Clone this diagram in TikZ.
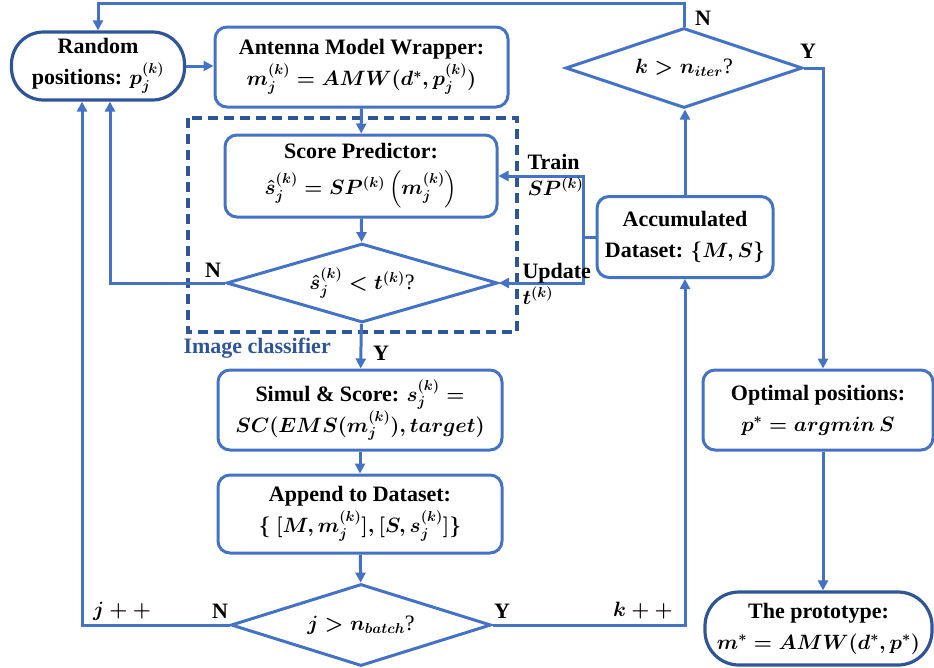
\documentclass[tikz,border=0pt]{standalone}
\usepackage{fontspec}
\setmainfont{Liberation Serif}
\usepackage{amsmath}
\usetikzlibrary{arrows.meta,shapes.geometric}
\definecolor{lineblue}{HTML}{4472C4}
\definecolor{darkblue}{HTML}{2F5597}

\begin{document}
\begin{tikzpicture}[x=1pt, y=-1pt, >={Triangle[length=10pt,width=10pt]},
  font=\fontsize{22}{31}\selectfont\bfseries\boldmath,
  bx/.style={draw=lineblue, line width=3pt, rounded corners=12pt, align=center, inner sep=2pt},
  term/.style={draw=darkblue, line width=3.2pt, rounded corners=32pt, align=center, inner sep=2pt},
  dec/.style={draw=lineblue, line width=3pt, diamond, aspect=3.3, inner sep=0pt},
  ln/.style={draw=lineblue, line width=3pt}]
\useasboundingbox (0,0) rectangle (934,667);
% left column
\node[term, minimum width=173pt, minimum height=68pt] (rnd) at (98,66) {Random\\positions: $p_j^{(k)}$};
\node[bx, minimum width=293pt, minimum height=80pt] (amw) at (361.5,67)
  {Antenna Model Wrapper:\\$m_j^{(k)} = AMW(d^*, p_j^{(k)})$};
\node[bx, minimum width=272pt, minimum height=82pt] (sp) at (361,176)
  {Score Predictor:\\[5pt]$\hat{s}_j^{(k)} = SP^{(k)}\left(m_j^{(k)}\right)$};
\node[dec, minimum width=271pt, minimum height=79pt] (d1) at (362,283) {$\hat{s}_j^{(k)} < t^{(k)}$\textmd{?}};
\node[bx, minimum width=284pt, minimum height=80pt] (sim) at (360,410)
  {Simul \& Score: $s_j^{(k)} =$\\$SC(EMS(m_j^{(k)}), target)$};
\node[bx, minimum width=284pt, minimum height=78pt] (app) at (360,514)
  {Append to Dataset:\\$\{\ [M, m_j^{(k)}], [S, s_j^{(k)}]\}$};
\node[dec, minimum width=260pt, minimum height=82pt] (d3) at (361,625) {$j > n_{batch}$\textmd{?}};
% right column
\node[bx, minimum width=176pt, minimum height=81pt] (acc) at (685,237) {Accumulated\\Dataset: $\{M, S\}$};
\node[dec, minimum width=237pt, minimum height=80pt] (dk) at (684,68) {$k > n_{iter}$\textmd{?}};
\node[bx, minimum width=230pt, minimum height=80pt] (opt) at (818,410) {Optimal positions:\\$p^* = argmin\,S$};
\node[term, minimum width=227pt, minimum height=73pt, rounded corners=34pt] (proto) at (818.5,628.5)
  {The prototype:\\$m^* = AMW(d^*, p^*)$};
% image classifier frame
\draw[darkblue, line width=3.2pt, dash pattern=on 10pt off 6pt] (188,118) rectangle (517,332);
\node[anchor=west, text=darkblue] (cls) at (180,348) {Image classifier};
% connectors
\draw[ln,->] (rnd.east) -- (rnd.east -| amw.west);
\draw[ln,->] (amw) -- (sp);
\draw[ln,->] (sp) -- (d1);
\draw[ln,->] (d1.west) -| ([xshift=12pt]rnd.south);
\draw[ln,->] (d1) -- (sim);
\draw[ln,->] (sim) -- (app);
\draw[ln,->] (app) -- (d3);
\draw[ln,->] (d3.west) -| ([xshift=-16pt]rnd.south);
\draw[ln,->] (d3.east) -| (acc.south);
\draw[ln,->] (acc.north) -- (acc.north |- dk.south);
\draw[ln,->] (dk.north) -- ++(0,-23) -| (rnd.north);
\draw[ln,->] (dk.east) -| ([xshift=5pt]opt.north);
\draw[ln,->] ([xshift=5pt]opt.south) -- ([xshift=5pt]opt.south |- proto.north);
\draw[ln,->] (acc.west) -- ++(-12,0) |- (sp.east);
\draw[ln,->] (acc.west) -- ++(-12,0) |- (d1.east);
% labels
\node (nd1) at (213,270) {N};
\node (yd1) at (381,353) {Y};
\node (nd3) at (220,611) {N};
\node (yd3) at (502,611) {Y};
\node (jpp) at (122,611) {$j++$};
\node (kpp) at (643,611) {$k++$};
\node (ndk) at (703,18) {N};
\node (ydk) at (808,51) {Y};
\node[anchor=west, align=left] (trn) at (524,175) {Train\\[-5pt]$SP^{(k)}$};
\node[anchor=west, align=left] (upd) at (519,284) {Update\\[-5pt]$t^{(k)}$};
\end{tikzpicture}
\end{document}
